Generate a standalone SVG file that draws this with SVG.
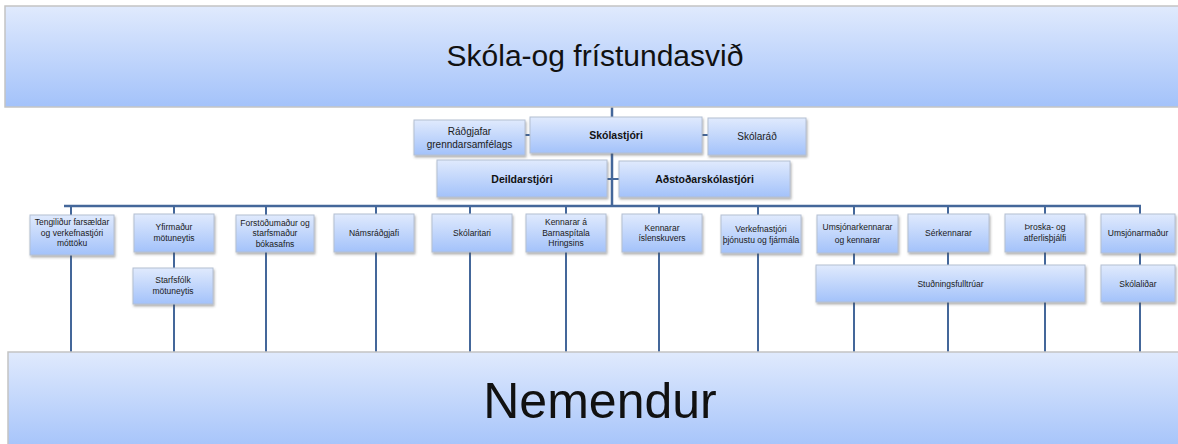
<svg xmlns="http://www.w3.org/2000/svg" width="1178" height="444" viewBox="0 0 1178 444">
<defs>
<linearGradient id="g" x1="0" y1="0" x2="0" y2="1">
<stop offset="0" stop-color="#e0eafd"/>
<stop offset="1" stop-color="#a3c2fa"/>
</linearGradient>
<filter id="sh" x="-5%" y="-10%" width="110%" height="130%">
<feDropShadow dx="1" dy="2" stdDeviation="1" flood-color="#555" flood-opacity="0.45"/>
</filter>
</defs>
<style>
.b{fill:url(#g);stroke:#b4bfd2;stroke-width:1;filter:url(#sh)}
.big{fill:url(#g);stroke:#c4c4c4;stroke-width:1.5}
.t{font-family:"Liberation Sans",Arial,sans-serif;font-size:8.5px;fill:#1a1a1a;text-anchor:middle}
.m{font-family:"Liberation Sans",Arial,sans-serif;font-size:10px;fill:#1a1a1a;text-anchor:middle}
.bd{font-family:"Liberation Sans",Arial,sans-serif;font-size:10.5px;font-weight:bold;fill:#111;text-anchor:middle}
.c{stroke:#44679a;stroke-width:2;fill:none}
.c2{stroke:#44679a;stroke-width:2.5;fill:none}
</style>
<rect width="1178" height="444" fill="#ffffff"/>
<g id="connectors">
<line class="c2" x1="612" y1="107" x2="612" y2="206"/>
<line class="c2" x1="64" y1="206" x2="1141" y2="206"/>
<line class="c" x1="525" y1="135" x2="708" y2="135"/>
<line class="c" x1="607" y1="179" x2="619" y2="179"/>
<line class="c" x1="71" y1="206" x2="71" y2="352"/>
<line class="c" x1="174" y1="206" x2="174" y2="352"/>
<line class="c" x1="266" y1="206" x2="266" y2="352"/>
<line class="c" x1="376" y1="206" x2="376" y2="352"/>
<line class="c" x1="470" y1="206" x2="470" y2="352"/>
<line class="c" x1="566" y1="206" x2="566" y2="352"/>
<line class="c" x1="659" y1="206" x2="659" y2="352"/>
<line class="c" x1="758" y1="206" x2="758" y2="352"/>
<line class="c" x1="854" y1="206" x2="854" y2="352"/>
<line class="c" x1="948" y1="206" x2="948" y2="352"/>
<line class="c" x1="1045" y1="206" x2="1045" y2="352"/>
<line class="c" x1="1140" y1="206" x2="1140" y2="352"/>
</g>
<g id="top">
<rect class="big" x="5" y="6" width="1180" height="101"/>
<text x="595" y="66" font-family="'Liberation Sans',Arial,sans-serif" font-size="30" fill="#111" text-anchor="middle">Skóla-og frístundasvið</text>
</g>
<g id="radgjafar"><rect class="b" x="414" y="120" width="111" height="35"/>
<text class="m" x="469.5" y="135">Ráðgjafar</text><text class="m" x="469.5" y="148">grenndarsamfélags</text></g>
<g id="skolastjori"><rect class="b" x="530" y="117" width="172" height="36"/>
<text class="bd" x="616" y="139">Skólastjóri</text></g>
<g id="skolarad"><rect class="b" x="708" y="118" width="98" height="37"/>
<text class="m" x="757" y="140">Skólaráð</text></g>
<g id="deildarstjori"><rect class="b" x="437" y="160" width="170" height="37"/>
<text class="bd" x="522" y="182.5">Deildarstjóri</text></g>
<g id="adstodarskolastjori"><rect class="b" x="619" y="161" width="171" height="36"/>
<text class="bd" x="704.5" y="183">Aðstoðarskólastjóri</text></g>
<g id="tengilidur"><rect class="b" x="30" y="215" width="84" height="40"/>
<text class="t" x="72" y="225">Tengiliður farsældar</text><text class="t" x="72" y="235.5">og verkefnastjóri</text><text class="t" x="72" y="246">móttöku</text></g>
<g id="yfirmadur"><rect class="b" x="134" y="214" width="80" height="38"/>
<text class="t" x="174" y="230">Yfirmaður</text><text class="t" x="174" y="240.5">mötuneytis</text></g>
<g id="starfsfolk"><rect class="b" x="133" y="268" width="80" height="36"/>
<text class="t" x="173" y="283">Starfsfólk</text><text class="t" x="173" y="293.5">mötuneytis</text></g>
<g id="forstodumadur"><rect class="b" x="236" y="215" width="78" height="37"/>
<text class="t" x="275" y="225.5">Forstöðumaður og</text><text class="t" x="275" y="236">starfsmaður</text><text class="t" x="275" y="246.5">bókasafns</text></g>
<g id="namsradgjafi"><rect class="b" x="334" y="214" width="80" height="38"/>
<text class="t" x="374" y="236">Námsráðgjafi</text></g>
<g id="skolaritari"><rect class="b" x="432" y="214" width="80" height="38"/>
<text class="t" x="472" y="236">Skólaritari</text></g>
<g id="kennarar-barnaspitala"><rect class="b" x="526" y="214" width="80" height="38"/>
<text class="t" x="566" y="225">Kennarar á</text><text class="t" x="566" y="235.5">Barnaspítala</text><text class="t" x="566" y="246">Hringsins</text></g>
<g id="kennarar-islenskuvers"><rect class="b" x="622" y="214" width="80" height="38"/>
<text class="t" x="662" y="230.5">Kennarar</text><text class="t" x="662" y="241">íslenskuvers</text></g>
<g id="verkefnastjori"><rect class="b" x="721" y="215" width="80" height="38"/>
<text class="t" x="761" y="232">Verkefnastjóri</text><text class="t" x="761" y="242.5">þjónustu og fjármála</text></g>
<g id="umsjonarkennarar"><rect class="b" x="817" y="215" width="81" height="38"/>
<text class="t" x="857.5" y="229.5">Umsjónarkennarar</text><text class="t" x="857.5" y="243">og kennarar</text></g>
<g id="serkennarar"><rect class="b" x="908" y="214" width="81" height="38"/>
<text class="t" x="948.5" y="236">Sérkennarar</text></g>
<g id="throska"><rect class="b" x="1005" y="214" width="80" height="38"/>
<text class="t" x="1045" y="230">Þroska- og</text><text class="t" x="1045" y="240.5">atferlisþjálfi</text></g>
<g id="umsjonarmadur"><rect class="b" x="1101" y="214" width="74" height="39"/>
<text class="t" x="1138" y="236">Umsjónarmaður</text></g>
<g id="studningsfulltruar"><rect class="b" x="816" y="265" width="269" height="37"/>
<text class="t" x="950.5" y="286.5">Stuðningsfulltrúar</text></g>
<g id="skolalidar"><rect class="b" x="1101" y="265" width="74" height="37"/>
<text class="t" x="1138" y="286.5">Skólaliðar</text></g>
<g id="nemendur">
<rect class="big" x="8" y="352" width="1180" height="100"/>
<text x="600" y="418" font-family="'Liberation Sans',Arial,sans-serif" font-size="50" fill="#111" text-anchor="middle">Nemendur</text>
</g>
</svg>
